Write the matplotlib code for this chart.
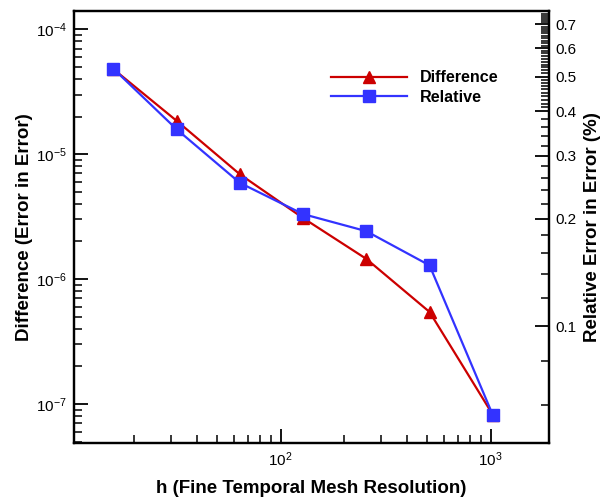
import matplotlib
matplotlib.use("Agg")
import matplotlib.pyplot as plt
from matplotlib.ticker import FixedLocator, FuncFormatter, LogLocator, LogFormatterSciNotation, NullFormatter

plt.rcParams['font.family'] = ['Liberation Sans', 'DejaVu Sans']
plt.rcParams['mathtext.default'] = 'regular'

# mesh resolution and the two error measures
h = [16, 32, 64, 128, 256, 512, 1024]
difference = [4.8e-5, 1.85e-5, 6.9e-6, 3.08e-6, 1.45e-6, 5.45e-7, 8.2e-8]
relative = [0.526, 0.356, 0.252, 0.206, 0.1845, 0.148, 0.0564]

right_major = [0.1, 0.2, 0.3, 0.4, 0.5, 0.6, 0.7]
right_minor = [0.06, 0.08, 0.12, 0.14, 0.16, 0.18, 0.22, 0.24, 0.26, 0.28,
               0.32, 0.34, 0.36, 0.38, 0.41, 0.42, 0.43, 0.44, 0.45, 0.46,
               0.47, 0.48, 0.49, 0.51, 0.52, 0.53, 0.54, 0.55, 0.56, 0.57,
               0.58, 0.59, 0.61, 0.62, 0.63, 0.64, 0.65, 0.66, 0.67, 0.68,
               0.69, 0.71, 0.72, 0.73, 0.74, 0.75]

red = '#CC0000'
blue = '#3333FF'

fig = plt.figure(figsize=(6.05, 4.98), dpi=100)
ax = fig.add_axes([0.1223, 0.1098, 0.907 - 0.1223, 0.978 - 0.1098])
ax2 = ax.twinx()

l1, = ax.plot(h, difference, color=red, lw=1.6, marker='^', ms=9,
              markeredgecolor=red, label='Difference')
l2, = ax2.plot(h, relative, color=blue, lw=1.6, marker='s', ms=8,
               markeredgecolor=blue, label='Relative')

ax.set_xscale('log')
ax.set_yscale('log')
ax2.set_yscale('log')
ax.set_xlim(10.4, 1890)
ax.set_ylim(4.84e-8, 1.40e-4)
ax2.set_ylim(0.047, 0.763)

ax.xaxis.set_major_locator(FixedLocator([100, 1000]))
ax.xaxis.set_major_formatter(LogFormatterSciNotation())
ax.xaxis.set_minor_locator(LogLocator(base=10, subs=range(2, 10), numticks=20))
ax.xaxis.set_minor_formatter(NullFormatter())
ax.yaxis.set_major_locator(FixedLocator([1e-7, 1e-6, 1e-5, 1e-4]))
ax.yaxis.set_major_formatter(LogFormatterSciNotation())
ax.yaxis.set_minor_locator(LogLocator(base=10, subs=range(2, 10), numticks=20))
ax.yaxis.set_minor_formatter(NullFormatter())

ax2.yaxis.set_major_locator(FixedLocator(right_major))
ax2.yaxis.set_major_formatter(FuncFormatter(lambda v, p: '%g' % v))
ax2.yaxis.set_minor_locator(FixedLocator(right_minor))
ax2.yaxis.set_minor_formatter(NullFormatter())

for a in (ax, ax2):
    for s in a.spines.values():
        s.set_linewidth(1.6)
    a.tick_params(which='major', direction='in', length=10, width=1.3,
                  labelsize=11, pad=5)
    a.tick_params(which='minor', direction='in', length=6, width=1.1)
ax.tick_params(top=False, right=False, which='both')
ax2.tick_params(left=False, which='both')

ax.set_xlabel('h (Fine Temporal Mesh Resolution)', fontsize=13.5,
              fontweight='bold', labelpad=8)
ax.set_ylabel('Difference (Error in Error)', fontsize=13.5,
              fontweight='bold', labelpad=2)
ax2.set_ylabel('Relative Error in Error (%)', fontsize=13.5,
               fontweight='bold', labelpad=5)

leg = ax.legend([l1, l2], ['Difference', 'Relative'], loc='upper left',
                bbox_to_anchor=(0.523, 0.888), bbox_transform=fig.transFigure,
                frameon=False, handlelength=4.7, handletextpad=0.8,
                labelspacing=0.3, prop={'weight': 'bold', 'size': 11.6})

fig.savefig('out.png', dpi=100)
